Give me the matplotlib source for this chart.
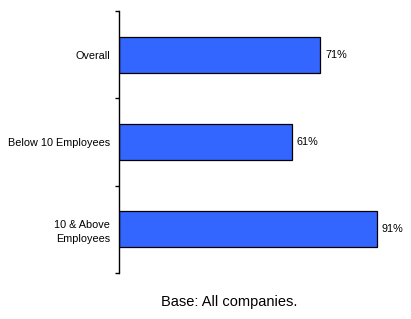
import matplotlib.pyplot as plt

categories = ["Overall", "Below 10 Employees", "10 & Above\nEmployees"]
values = [71, 61, 91]

plt.rcParams['font.family'] = ['Liberation Sans', 'DejaVu Sans']

fig = plt.figure(figsize=(4.11, 3.19), dpi=100)
ax = fig.add_axes([119 / 411, 1 - 273 / 319, 283 / 411, 262 / 319])

ypos = list(range(len(categories)))
ax.barh(ypos, values, height=0.41, color='#3366ff', edgecolor='black', linewidth=0.9)
for y, v in zip(ypos, values):
    ax.text(v + 1.8, y, f"{v}%", va='center', ha='left', fontsize=7.8)

ax.set_xlim(0, 100)
ax.set_ylim(len(categories) - 0.5, -0.5)
ax.set_yticks([-0.5, 0.5, 1.5, 2.5])
ax.set_yticklabels([])
ax.set_yticks(ypos, minor=True)
ax.set_yticklabels(categories, minor=True, fontsize=7.8, ha='right', linespacing=1.5)
ax.tick_params(axis='y', which='minor', length=0, pad=6.5)
ax.tick_params(axis='y', which='major', length=3, width=1, direction='out')
ax.set_xticks([])
for s in ['top', 'right', 'bottom']:
    ax.spines[s].set_visible(False)
ax.spines['left'].set_linewidth(1)

fig.text(229 / 411, 1 - 302 / 319, "Base: All companies.", ha='center', va='center', fontsize=10.5)

fig.savefig("out.png", dpi=100)
